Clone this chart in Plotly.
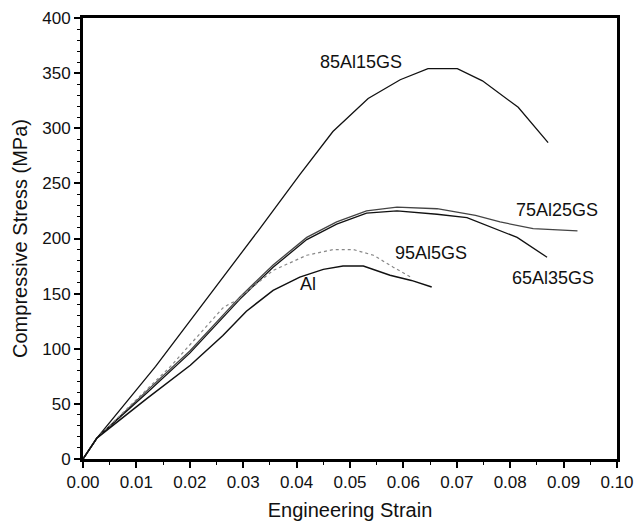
import plotly.graph_objects as go

# ---- data (strain, MPa) ----
strain_85 = [0, 0.0026, 0.0136, 0.023, 0.0328, 0.0406, 0.0468, 0.0534, 0.0594, 0.0646, 0.0701, 0.0748, 0.0815, 0.0871]
stress_85 = [0, 19, 84, 144, 207, 258, 297, 327, 344, 354, 354, 343, 319, 287]

strain_75 = [0, 0.0026, 0.012, 0.020, 0.0294, 0.0356, 0.0419, 0.0475, 0.0531, 0.0588, 0.0663, 0.0735, 0.0781, 0.0843, 0.0926]
stress_75 = [0, 19, 62, 98, 147, 176, 201, 215, 225, 228.5, 227, 221, 215, 209, 207]

strain_65 = [0, 0.0026, 0.012, 0.020, 0.0294, 0.0356, 0.0419, 0.0475, 0.0531, 0.0588, 0.0663, 0.0719, 0.0813, 0.0869]
stress_65 = [0, 19, 60, 96, 145, 174, 199, 213, 223, 225, 222, 219, 201, 183]

strain_95 = [0, 0.0026, 0.0164, 0.0262, 0.0275, 0.029, 0.0297, 0.0356, 0.0419, 0.0469, 0.0506, 0.0544, 0.0581, 0.0617]
stress_95 = [0, 19, 84, 137, 141, 144, 148, 171, 184.8, 190, 190, 184.8, 174, 164]

strain_al = [0, 0.0026, 0.012, 0.0201, 0.0262, 0.0306, 0.0356, 0.0406, 0.045, 0.0487, 0.0525, 0.0575, 0.0615, 0.0653]
stress_al = [0, 19, 55, 85, 112, 134, 153, 165, 172, 175, 175, 166.7, 162, 156]

labels = ["85Al15GS", "75Al25GS", "95Al5GS", "65Al35GS", "Al"]
label_x = [0.0521, 0.0888, 0.0652, 0.0881, 0.0421]
label_y = [360, 226, 187, 164, 159]

x_ticks = [0.00, 0.01, 0.02, 0.03, 0.04, 0.05, 0.06, 0.07, 0.08, 0.09, 0.10]
y_ticks = [0, 50, 100, 150, 200, 250, 300, 350, 400]

fig = go.Figure()
fig.add_trace(go.Scatter(x=strain_85, y=stress_85, mode="lines", name="85Al15GS",
                         line=dict(color="#111111", width=1.3)))
fig.add_trace(go.Scatter(x=strain_75, y=stress_75, mode="lines", name="75Al25GS",
                         line=dict(color="#444444", width=1.3)))
fig.add_trace(go.Scatter(x=strain_65, y=stress_65, mode="lines", name="65Al35GS",
                         line=dict(color="#111111", width=1.3)))
fig.add_trace(go.Scatter(x=strain_95, y=stress_95, mode="lines", name="95Al5GS",
                         line=dict(color="#888888", width=1.2, dash="dot")))
fig.add_trace(go.Scatter(x=strain_al, y=stress_al, mode="lines", name="Al",
                         line=dict(color="#111111", width=1.5)))

for t, lx, ly in zip(labels, label_x, label_y):
    fig.add_annotation(x=lx, y=ly, text=t, showarrow=False,
                       font=dict(family="Liberation Sans, Arial", size=18, color="#111111"))

fig.update_layout(
    width=636, height=525,
    margin=dict(l=83, r=19, t=18, b=66),
    paper_bgcolor="white", plot_bgcolor="white",
    showlegend=False,
    font=dict(family="Liberation Sans, Arial", color="#111111"),
)
fig.update_xaxes(
    range=[0, 0.10], tickvals=x_ticks, ticktext=[f"{v:.2f}" for v in x_ticks],
    showgrid=False, zeroline=False,
    showline=True, linecolor="black", linewidth=3, mirror=True,
    ticks="outside", ticklen=6, tickwidth=1.5, tickcolor="black",
    minor=dict(dtick=0.005, ticks="outside", ticklen=3, tickwidth=1.2, tickcolor="black"),
    tickfont=dict(size=17),
    title=dict(text="Engineering Strain", font=dict(size=20), standoff=12),
    automargin=False,
)
fig.update_yaxes(
    range=[0, 400], tickvals=y_ticks,
    showgrid=False, zeroline=False,
    showline=True, linecolor="black", linewidth=3, mirror=True,
    ticks="outside", ticklen=6, tickwidth=1.5, tickcolor="black",
    minor=dict(dtick=10, ticks="outside", ticklen=3, tickwidth=1.2, tickcolor="black"),
    tickfont=dict(size=17),
    title=dict(text="Compressive Stress (MPa)", font=dict(size=20), standoff=10),
    automargin=False,
)

fig.write_html("out.html")
